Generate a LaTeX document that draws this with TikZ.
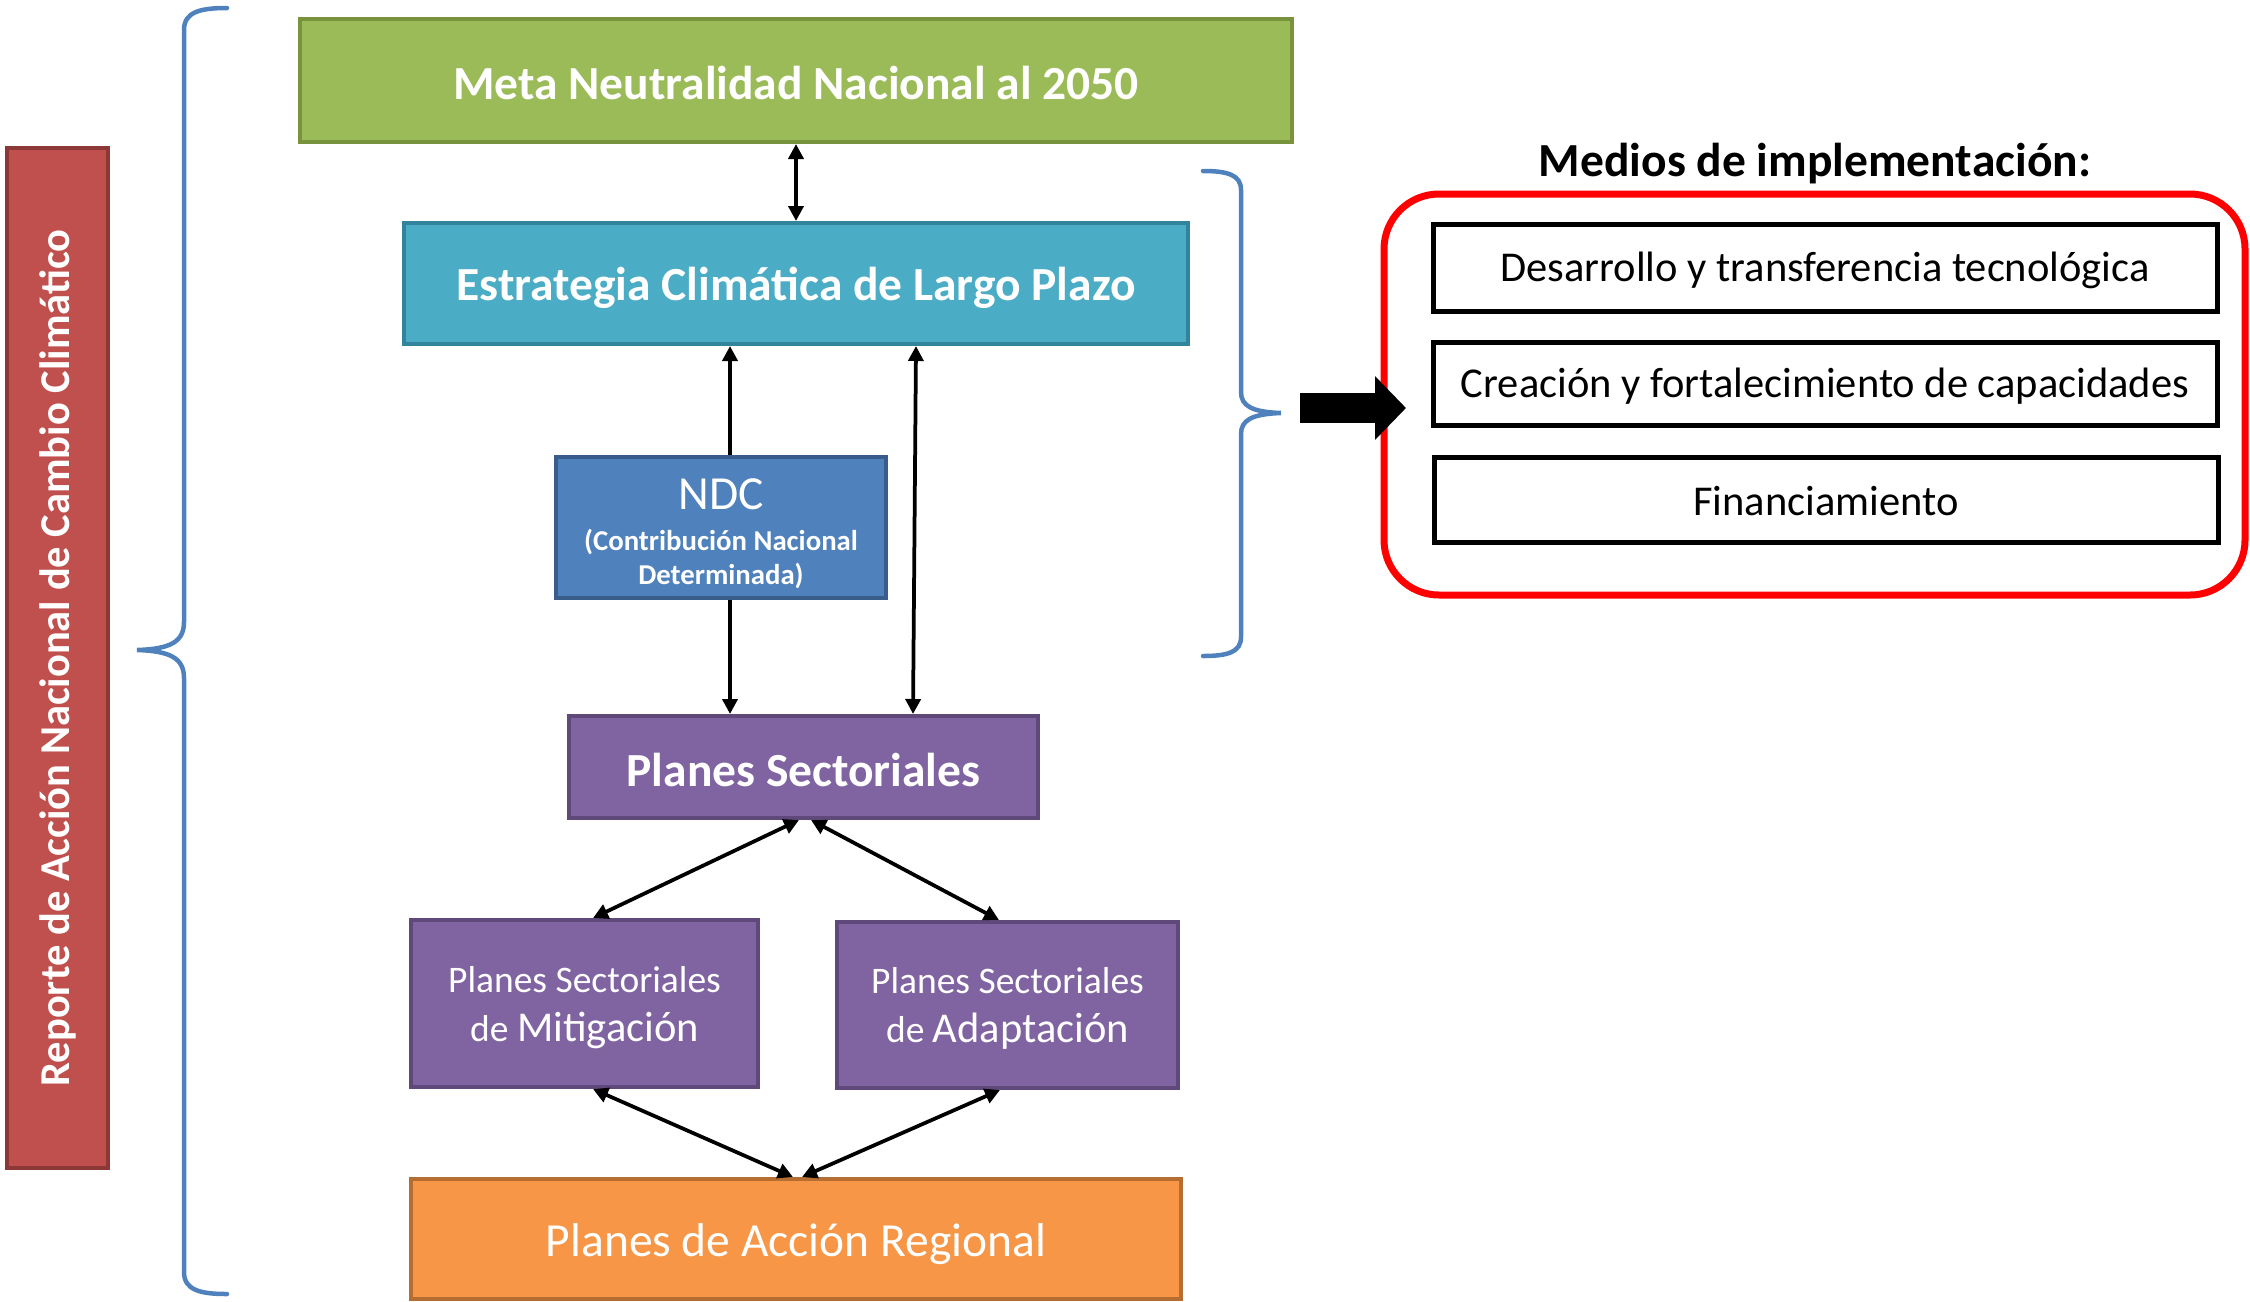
\documentclass[tikz,border=0pt]{standalone}
\usepackage{fontspec}
\setmainfont{Carlito}
\usetikzlibrary{arrows.meta,calc}
\definecolor{gfill}{HTML}{9BBB59}\definecolor{gdraw}{HTML}{77933C}
\definecolor{cfill}{HTML}{4BACC6}\definecolor{cdraw}{HTML}{31849B}
\definecolor{bfill}{HTML}{4F81BD}\definecolor{bdraw}{HTML}{385D8A}
\definecolor{pfill}{HTML}{8064A2}\definecolor{pdraw}{HTML}{5F497A}
\definecolor{ofill}{HTML}{F79646}\definecolor{odraw}{HTML}{B66D31}
\definecolor{rfill}{HTML}{C0504D}\definecolor{rdraw}{HTML}{8C3836}
\definecolor{brace}{HTML}{4F81BD}
\newcommand{\shiftdown}[2]{\raisebox{-#1}[\height][\depth]{#2}}
\begin{document}
\begin{tikzpicture}[x=0.4pt,y=-0.4pt,
  box/.style={draw, line width=1.6pt, text=white, inner sep=0pt, align=center},
  wbox/.style={draw=black, fill=white, line width=2pt, inner sep=0pt, minimum width=313.6pt, font=\fontsize{17}{20}\selectfont},
  conn/.style={line width=1.5pt},
  >={Triangle[length=6pt,width=6pt]},
  bracestyle/.style={draw=brace, line width=1.8pt, line cap=round}]
\useasboundingbox (0,0) rectangle (2250,1301);

% main boxes
\node[box, fill=gfill, draw=gdraw, minimum width=396.8pt, minimum height=49.2pt, font=\bfseries\fontsize{19}{22}\selectfont] (g) at (796,80.5) {\shiftdown{1.2pt}{Meta Neutralidad Nacional al 2050}};
\node[box, fill=cfill, draw=cdraw, minimum width=313.6pt, minimum height=48.4pt, font=\bfseries\fontsize{19}{22}\selectfont] (c) at (796,283.5) {\shiftdown{1.6pt}{Estrategia Climática de Largo Plazo}};
\node[box, fill=bfill, draw=bdraw, minimum width=132pt, minimum height=56.4pt, font=\bfseries\fontsize{11.5}{13.6}\selectfont] (ndc) at (721,527.5) {\shiftdown{3.7pt}{\begin{tabular}{@{}c@{}}{\mdseries\fontsize{19}{19}\selectfont NDC}\\[2.7pt](Contribución Nacional\\Determinada)\end{tabular}}};
\node[box, fill=pfill, draw=pdraw, minimum width=187.6pt, minimum height=40.8pt, font=\bfseries\fontsize{19}{22}\selectfont] (ps) at (803.5,767) {\shiftdown{1.2pt}{Planes Sectoriales}};
\node[box, fill=pfill, draw=pdraw, minimum width=138.8pt, minimum height=66.8pt, font=\fontsize{15}{19.6}\selectfont] (mit) at (584.5,1003.5) {\shiftdown{1.4pt}{\begin{tabular}{@{}c@{}}Planes Sectoriales\\de {\fontsize{17}{19.6}\selectfont Mitigación}\end{tabular}}};
\node[box, fill=pfill, draw=pdraw, minimum width=136.4pt, minimum height=66.4pt, font=\fontsize{15}{19.6}\selectfont] (ada) at (1007.5,1005) {\shiftdown{1.4pt}{\begin{tabular}{@{}c@{}}Planes Sectoriales\\de {\fontsize{17}{19.6}\selectfont Adaptación}\end{tabular}}};
\node[box, fill=ofill, draw=odraw, minimum width=308pt, minimum height=48pt, font=\fontsize{19}{22}\selectfont] (reg) at (796,1239) {\shiftdown{2.2pt}{Planes de Acción Regional}};
\node[box, fill=rfill, draw=rdraw, minimum width=40.4pt, minimum height=407.8pt] (rep) at (57.5,658) {};
\node[text=white, rotate=90, font=\bfseries\fontsize{17}{20}\selectfont] (reptext) at (rep.center) {Reporte de Acción Nacional de Cambio Climático};

% connectors
\draw[conn,<->] (g.south) -- (c.north);
\draw[conn,->] ($(ndc.north)+(9,0)$) -- ($(c.south)+(-66,0)$);
\draw[conn,->] ($(ndc.south)+(9,0)$) -- ($(ps.north)+(-73.5,0)$);
\draw[conn,<->] ($(c.south)+(120,0)$) -- ($(ps.north)+(109.5,0)$);
\draw[conn,<->] ($(ps.south)+(-4.5,0)$) -- ($(mit.north)+(8.5,0)$);
\draw[conn,<->] ($(ps.south)+(7.5,0)$) -- ($(ada.north)+(-8.5,0)$);
\draw[conn,<->] ($(mit.south)+(8.5,0)$) -- ($(reg.north)+(-3,0)$);
\draw[conn,<->] ($(ada.south)+(-7.5,0)$) -- ($(reg.north)+(6,0)$);

% braces
\draw[bracestyle] (227,8) .. controls (200,8) and (184,12) .. (184,30) -- (184,622) .. controls (184,642) and (170,649) .. (137,650) .. controls (170,651) and (184,658) .. (184,678) -- (184,1272) .. controls (184,1290) and (200,1294) .. (227,1294);
\draw[bracestyle] (1203,171) .. controls (1228,171) and (1241,175) .. (1241,190) -- (1241,392) .. controls (1241,406) and (1252,412) .. (1281,413) .. controls (1252,414) and (1241,420) .. (1241,434) -- (1241,637) .. controls (1241,652) and (1228,656) .. (1203,656);

% medios de implementacion
\node[font=\bfseries\fontsize{19}{22}\selectfont] (mt) at (1815,164) {Medios de implementación:};
\node[draw=red, line width=2.8pt, rounded corners=22pt, minimum width=344.4pt, minimum height=160.4pt] (mbox) at (1814.5,394.5) {};
\node[wbox, minimum height=34.8pt] (m1) at (1825,267.5) {\shiftdown{1.2pt}{Desarrollo y transferencia tecnológica}};
\node[wbox, minimum height=33.2pt] (m2) at (1825,383.5) {\shiftdown{1.2pt}{Creación y fortalecimiento de capacidades}};
\node[wbox, minimum height=34pt] (m3) at (1826,499.5) {\shiftdown{0.8pt}{Financiamiento}};

\coordinate (arrS) at (1300,408);
\coordinate (arrE) at (1406,408);
\draw[line width=12pt, -{Triangle[length=12.4pt,width=24.8pt]}] (arrS) -- (arrE);
\end{tikzpicture}
\end{document}
